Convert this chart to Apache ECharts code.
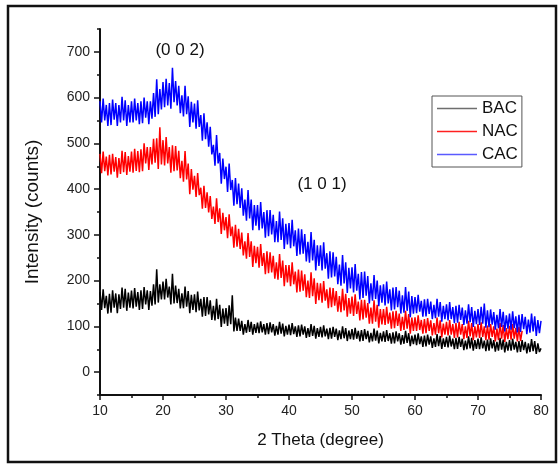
<!DOCTYPE html>
<html>
<head>
<meta charset="utf-8">
<script src="https://cdn.jsdelivr.net/npm/echarts@6/dist/echarts.min.js"></script>
<style>
	html, body { margin: 0; padding: 0; background: #fff; }
	#xrd { width: 559px; height: 465px; }
</style>
</head>
<body>
<div id="xrd"></div>
<script>
// scan grid: 2 theta from 10 deg, one reading every 0.25 deg
var thetaStart = 10;
var thetaStep = 0.25;

var seriesNames = ['BAC', 'NAC', 'CAC'];
var yTickValues = [0, 100, 200, 300, 400, 500, 600, 700];

// counts, 10 .. 80 deg (4 readings per degree)
var bacCounts = [
	175,136,181,140, 167,128,171,130, 179,141,172,129, 170,138,185,141, 182,134,174,141,
	178,139,184,143, 175,136,179,138, 186,148,179,136, 177,145,192,148, 225,152,192,159,
	198,159,204,163, 187,148,215,150, 189,151,182,139, 172,140,187,143, 177,129,169,136,
	170,131,176,135, 160,121,164,123, 164,126,157,114, 145,113,160,116, 147,99,139,106,
	140,101,146,105, 168,89,119,90, 117,90,112,82, 105,86,114,88, 110,82,105,86,
	108,85,111,87, 105,82,107,83, 109,87,105,80, 101,82,110,84, 106,78,101,82,
	104,81,107,83, 100,77,102,78, 104,82,100,75, 96,77,105,79, 101,73,96,77,
	99,76,102,78, 95,72,97,73, 99,77,95,70, 91,72,100,74, 96,68,91,72,
	94,71,97,73, 90,67,92,68, 94,72,90,65, 86,67,95,69, 91,63,86,67,
	89,66,92,68, 85,62,87,63, 89,67,85,60, 81,62,90,64, 85,57,80,61,
	82,59,85,61, 78,55,80,56, 82,60,78,53, 74,55,83,57, 79,51,74,55,
	77,54,80,56, 73,50,75,51, 77,55,73,48, 69,50,78,52, 75,47,70,51,
	73,50,76,52, 69,46,71,47, 74,52,70,45, 66,47,75,49, 71,43,66,47,
	70,47,73,49, 66,43,68,44, 70,48,66,41, 63,44,72,46, 68,40,63,44,
	52
];

// NAC stops at 77 deg
var nacCounts = [
	477,435,482,439, 471,430,475,432, 477,438,470,425, 468,433,484,437, 481,431,472,438,
	482,436,488,440, 483,437,487,439, 500,456,492,442, 492,454,510,458, 511,444,535,454,
	507,452,514,456, 492,436,496,439, 494,441,484,424, 462,416,483,421, 456,389,444,399,
	429,383,435,387, 403,357,407,359, 393,349,385,335, 362,324,380,328, 358,302,348,310,
	339,293,345,297, 318,272,322,274, 313,269,305,255, 286,248,304,252, 286,230,276,238,
	274,228,280,232, 260,214,264,216, 262,218,254,204, 240,202,258,206, 244,188,234,196,
	234,188,240,192, 220,174,224,176, 222,178,214,164, 200,162,218,166, 205,149,195,157,
	194,152,199,156, 181,140,185,142, 184,145,177,132, 166,131,182,135, 171,121,162,128,
	165,123,170,127, 154,113,158,115, 158,119,151,106, 141,106,157,110, 147,97,138,104,
	138,103,143,106, 130,95,133,96, 134,101,128,90, 121,92,134,95, 127,84,119,90,
	120,90,124,92, 114,84,116,85, 118,90,113,80, 107,82,119,85, 113,76,106,82,
	110,80,114,82, 105,75,107,76, 110,82,105,72, 100,75,112,78, 107,70,100,76,
	105,75,109,77, 100,70,102,71, 105,77,100,67, 95,70,107,73, 103,66,96,72,
	101,71,105,73, 97,67,99,68, 90
];

var cacCounts = [
	592,546,598,550, 584,538,588,540, 596,552,588,538, 584,546,602,550, 594,538,584,546,
	592,546,598,550, 588,542,592,544, 600,556,592,542, 592,554,610,558, 640,564,619,574,
	634,579,641,583, 632,576,665,590, 636,583,626,566, 605,559,626,564, 603,536,591,546,
	587,532,594,536, 562,506,566,509, 546,493,536,476, 497,451,518,456, 479,412,467,422,
	449,394,456,398, 420,364,424,367, 412,359,402,342, 377,331,398,336, 377,310,365,320,
	365,310,372,314, 350,294,354,297, 354,301,344,284, 330,284,351,289, 336,269,324,279,
	326,271,333,275, 310,254,314,257, 312,259,302,242, 285,239,306,244, 289,222,277,232,
	277,222,284,226, 260,204,264,207, 262,209,252,192, 235,189,256,194, 240,173,228,183,
	229,174,236,178, 215,159,219,162, 220,167,210,150, 194,156,212,160, 200,144,190,152,
	192,146,198,150, 181,135,185,137, 186,142,178,128, 168,130,186,134, 176,120,166,128,
	164,129,169,132, 156,121,159,122, 160,127,154,116, 147,118,160,121, 153,110,145,116,
	148,113,153,116, 142,107,145,108, 147,114,141,103, 135,106,148,109, 142,99,134,105,
	138,103,143,106, 150,97,135,98, 137,104,131,93, 125,96,138,99, 132,89,124,95,
	128,93,133,96, 122,87,125,88, 127,94,121,83, 115,86,128,89, 122,79,114,85,
	112
];

function toPairs(counts) {
	return counts.map(function (v, i) {
		return [thetaStart + i * thetaStep, v];
	});
}

var font = 'Liberation Sans, Arial, sans-serif';
var lineColors = ['#000000', '#ff0000', '#0000ff'];
var legendColors = ['#6e6e6e', '#ff2020', '#5a5aff'];

var chart = echarts.init(document.getElementById('xrd'));
var option = {
	animation: false,
	backgroundColor: '#ffffff',
	grid: {
		left: 100,
		right: 18,
		top: 29,
		bottom: 70
	},
	legend: {
		orient: 'vertical',
		left: 432,
		top: 96,
		padding: [4, 4, 4, 5],
		itemWidth: 40,
		itemHeight: 1.5,
		itemGap: 6,
		icon: 'rect',
		borderColor: '#555',
		borderWidth: 1,
		backgroundColor: '#fff',
		textStyle: { fontFamily: font, fontSize: 17, color: '#111' },
		data: seriesNames.map(function (n, i) {
			return { name: n, itemStyle: { color: legendColors[i] } };
		})
	},
	xAxis: {
		type: 'value',
		min: 10,
		max: 80,
		interval: 10,
		name: '2 Theta (degree)',
		nameLocation: 'middle',
		nameGap: 37,
		nameTextStyle: { fontFamily: font, fontSize: 17, color: '#111' },
		axisLine: { show: true, onZero: false, lineStyle: { color: '#111', width: 2 } },
		axisTick: { show: true, inside: false, length: 5, lineStyle: { color: '#111', width: 1.5 } },
		minorTick: { show: true, splitNumber: 2, length: 3, lineStyle: { color: '#111', width: 1.5 } },
		axisLabel: { fontFamily: font, fontSize: 14, color: '#222', margin: 9 },
		splitLine: { show: false },
		minorSplitLine: { show: false }
	},
	yAxis: [{
		type: 'value',
		min: -50,
		max: 750,
		interval: 50,
		name: 'Intensity (counts)',
		nameLocation: 'middle',
		nameGap: 58,
		nameTextStyle: { fontFamily: font, fontSize: 19, color: '#111' },
		axisLine: { show: true, onZero: false, lineStyle: { color: '#111', width: 2 } },
		axisTick: { show: true, length: 6, customValues: yTickValues, lineStyle: { color: '#111', width: 1.5 } },
		axisLabel: { fontFamily: font, fontSize: 14, color: '#222', margin: 10, customValues: yTickValues },
		splitLine: { show: false }
	}, {
		// short ticks every 50 counts
		type: 'value',
		position: 'left',
		min: -50,
		max: 750,
		interval: 50,
		axisLine: { show: false },
		axisTick: { show: true, length: 3, lineStyle: { color: '#111', width: 1.5 } },
		axisLabel: { show: false },
		splitLine: { show: false }
	}],
	graphic: [{
		type: 'rect',
		shape: { x: 8, y: 6, width: 548, height: 456 },
		style: { fill: 'none', stroke: '#111', lineWidth: 2.5 },
		silent: true
	}, {
		type: 'text',
		x: 180,
		y: 50,
		style: { text: '(0 0 2)', font: '17px ' + font, fill: '#111', textAlign: 'center', textVerticalAlign: 'middle' }
	}, {
		type: 'text',
		x: 322,
		y: 184,
		style: { text: '(1 0 1)', font: '17px ' + font, fill: '#111', textAlign: 'center', textVerticalAlign: 'middle' }
	}],
	series: [bacCounts, nacCounts, cacCounts].map(function (counts, i) {
		return {
			name: seriesNames[i],
			type: 'line',
			data: toPairs(counts),
			showSymbol: false,
			symbol: 'none',
			lineStyle: { color: lineColors[i], width: 1.5 },
			itemStyle: { color: lineColors[i] },
			z: 2 + i
		};
	})
};
chart.setOption(option);
</script>
</body>
</html>
